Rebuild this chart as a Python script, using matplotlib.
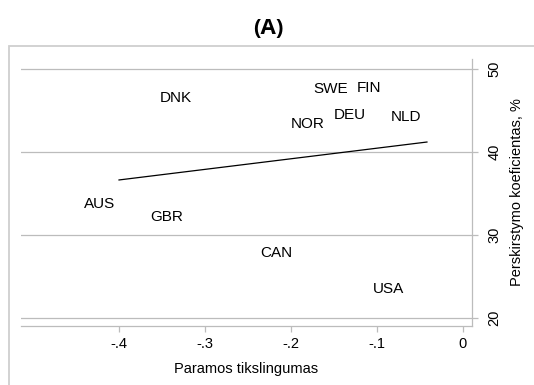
import matplotlib.pyplot as plt
from matplotlib.patches import Rectangle

# country labels and positions (marker hidden, label to the left of point)
countries = ['DNK', 'SWE', 'FIN', 'DEU', 'NLD', 'NOR', 'AUS', 'GBR', 'CAN', 'USA']
targeting = [-0.3093, -0.1279, -0.0895, -0.107, -0.043, -0.1547, -0.3988, -0.3198, -0.193, -0.0628]
redistribution = [46.5, 47.59, 47.71, 44.46, 44.22, 43.37, 33.73, 32.17, 27.83, 23.49]

# fitted line endpoints
fit_x = [-0.4, -0.0419]
fit_y = [36.63, 41.2]

xticks = [-0.4, -0.3, -0.2, -0.1, 0]
xticklabels = ['-.4', '-.3', '-.2', '-.1', '0']
yticks = [20, 30, 40, 50]

plt.rcParams['font.family'] = ['Liberation Sans', 'DejaVu Sans']

fig = plt.figure(figsize=(5.34, 3.85), dpi=100)
ax = fig.add_axes([21 / 534, 1 - 326 / 385, (472 - 21) / 534, (326 - 59) / 385])

# outer frame
fig.patches.append(Rectangle((9 / 534, -0.1), 1.2, 0.1 + (385 - 46) / 385,
                             transform=fig.transFigure, fill=False,
                             edgecolor='#cfcfcf', linewidth=1.3))

for y in yticks:
    ax.axhline(y, color='#bcbcbc', linewidth=0.9, zorder=1)

ax.plot(fit_x, fit_y, color='black', linewidth=0.9, zorder=3)

for name, x, y in zip(countries, targeting, redistribution):
    ax.annotate(name, (x, y), xytext=(-3.6, 0), textcoords='offset points',
                ha='right', va='center', fontsize=11, color='black')

ax.set_xlim(-0.514, 0.0105)
ax.set_ylim(19.04, 51.2)

for s in ['top', 'left']:
    ax.spines[s].set_visible(False)
for s in ['bottom', 'right']:
    ax.spines[s].set_color('#bcbcbc')
    ax.spines[s].set_linewidth(0.9)

ax.set_xticks(xticks)
ax.set_xticklabels(xticklabels)
ax.set_yticks(yticks)
ax.yaxis.tick_right()
ax.yaxis.set_label_position('right')
ax.tick_params(axis='both', colors='#bcbcbc', labelcolor='black', labelsize=10.5,
               length=4, width=0.9)
ax.tick_params(axis='x', pad=4)
ax.tick_params(axis='y', pad=7)
for lab in ax.get_yticklabels():
    lab.set_rotation(90)
    lab.set_va('center')

ax.set_xlabel('Paramos tikslingumas', fontsize=10.5, labelpad=8)
ax.set_ylabel('Perskirstymo koeficientas, %', fontsize=10.5, labelpad=6)

fig.text(268 / 534, 1 - 28 / 385, '(A)', ha='center', va='center',
         fontsize=16, fontweight='bold', family=['Open Sans', 'DejaVu Sans'])

fig.savefig('out.png', dpi=100)
